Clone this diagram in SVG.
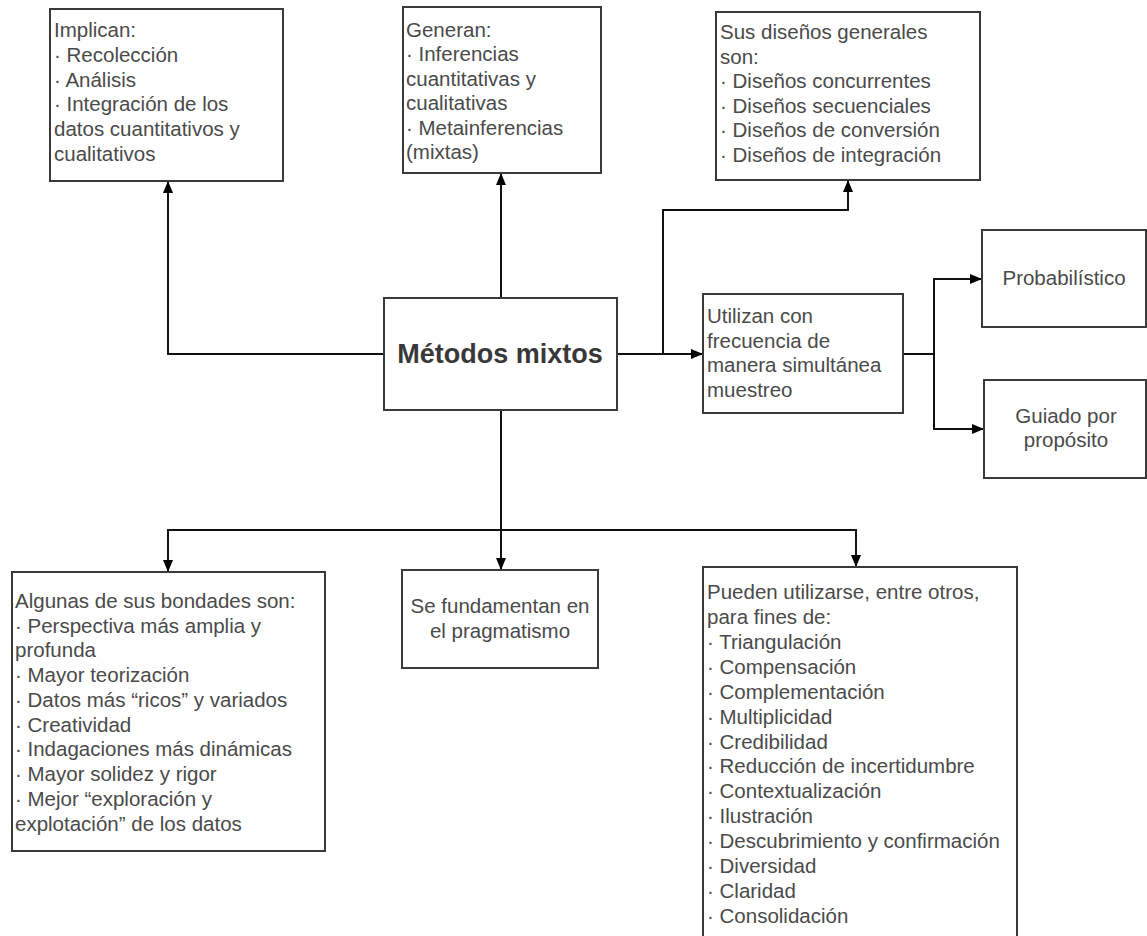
<svg xmlns="http://www.w3.org/2000/svg" width="1147" height="936" viewBox="0 0 1147 936">
<defs>
<marker id="ah" markerUnits="userSpaceOnUse" markerWidth="12" markerHeight="12" viewBox="0 0 12 12" refX="12" refY="6" orient="auto">
<path d="M0,1 L12,6 L0,11 Z" fill="#000"/>
</marker>
</defs>
<style>
.box{fill:#fff;stroke:#3a3a3a;stroke-width:2}
.t{font-family:"Liberation Sans",Arial,sans-serif;font-size:20.5px;fill:#4a4a4a}
.c{text-anchor:middle}
.title{font-family:"Liberation Sans",Arial,sans-serif;font-size:27px;font-weight:bold;fill:#383838;text-anchor:middle}
.ln{fill:none;stroke:#111;stroke-width:2}
.ar{fill:none;stroke:#111;stroke-width:2;marker-end:url(#ah)}
</style>
<rect width="1147" height="936" fill="#fff"/>
<g id="connectors">
<path class="ar" d="M501,298 V173"/>
<path class="ar" d="M384,354 H168 V181"/>
<path class="ar" d="M617,354 H703"/>
<path class="ar" d="M663,354 V210 H848 V180"/>
<path class="ln" d="M903,354 H934"/>
<path class="ar" d="M934,354 V279 H982"/>
<path class="ar" d="M934,354 V429 H984"/>
<path class="ln" d="M501,410 V530"/>
<path class="ar" d="M501,530 H168 V572"/>
<path class="ar" d="M501,530 V570"/>
<path class="ar" d="M501,530 H856 V567"/>
</g>
<g id="implican">
<rect class="box" x="50" y="9" width="233" height="172"/>
<text class="t"><tspan x="54" y="37">Implican:</tspan><tspan x="54" y="62">· Recolección</tspan><tspan x="54" y="87">· Análisis</tspan><tspan x="54" y="111">· Integración de los</tspan><tspan x="54" y="136">datos cuantitativos y</tspan><tspan x="54" y="161">cualitativos</tspan></text>
</g>
<g id="generan">
<rect class="box" x="403" y="7" width="198" height="166"/>
<text class="t"><tspan x="406" y="37">Generan:</tspan><tspan x="406" y="61">· Inferencias</tspan><tspan x="406" y="86">cuantitativas y</tspan><tspan x="406" y="110">cualitativas</tspan><tspan x="406" y="135">· Metainferencias</tspan><tspan x="406" y="159">(mixtas)</tspan></text>
</g>
<g id="disenos">
<rect class="box" x="716" y="12" width="264" height="168"/>
<text class="t"><tspan x="720" y="39">Sus diseños generales</tspan><tspan x="720" y="64">son:</tspan><tspan x="720" y="88">· Diseños concurrentes</tspan><tspan x="720" y="113">· Diseños secuenciales</tspan><tspan x="720" y="137">· Diseños de conversión</tspan><tspan x="720" y="162">· Diseños de integración</tspan></text>
</g>
<g id="metodos">
<rect class="box" x="384" y="298" width="233" height="112"/>
<text class="title" x="500" y="363">Métodos mixtos</text>
</g>
<g id="utilizan">
<rect class="box" x="703" y="294" width="200" height="119"/>
<text class="t"><tspan x="707" y="323">Utilizan con</tspan><tspan x="707" y="348">frecuencia de</tspan><tspan x="707" y="372">manera simultánea</tspan><tspan x="707" y="397">muestreo</tspan></text>
</g>
<g id="probabilistico">
<rect class="box" x="982" y="230" width="164" height="97"/>
<text class="t c" x="1064" y="285">Probabilístico</text>
</g>
<g id="guiado">
<rect class="box" x="984" y="380" width="162" height="98"/>
<text class="t c"><tspan x="1066" y="423">Guiado por</tspan><tspan x="1066" y="447">propósito</tspan></text>
</g>
<g id="bondades">
<rect class="box" x="12" y="572" width="313" height="279"/>
<text class="t"><tspan x="15" y="608">Algunas de sus bondades son:</tspan><tspan x="15" y="633">· Perspectiva más amplia y</tspan><tspan x="15" y="657">profunda</tspan><tspan x="15" y="682">· Mayor teorización</tspan><tspan x="15" y="707">· Datos más “ricos” y variados</tspan><tspan x="15" y="732">· Creatividad</tspan><tspan x="15" y="756">· Indagaciones más dinámicas</tspan><tspan x="15" y="781">· Mayor solidez y rigor</tspan><tspan x="15" y="806">· Mejor “exploración y</tspan><tspan x="15" y="831">explotación” de los datos</tspan></text>
</g>
<g id="pragmatismo">
<rect class="box" x="402" y="570" width="196" height="98"/>
<text class="t c"><tspan x="500" y="613">Se fundamentan en</tspan><tspan x="500" y="638">el pragmatismo</tspan></text>
</g>
<g id="fines">
<rect class="box" x="703" y="567" width="314" height="372"/>
<text class="t"><tspan x="707" y="599">Pueden utilizarse, entre otros,</tspan><tspan x="707" y="624">para fines de:</tspan><tspan x="707" y="649">· Triangulación</tspan><tspan x="707" y="674">· Compensación</tspan><tspan x="707" y="699">· Complementación</tspan><tspan x="707" y="724">· Multiplicidad</tspan><tspan x="707" y="749">· Credibilidad</tspan><tspan x="707" y="773">· Reducción de incertidumbre</tspan><tspan x="707" y="798">· Contextualización</tspan><tspan x="707" y="823">· Ilustración</tspan><tspan x="707" y="848">· Descubrimiento y confirmación</tspan><tspan x="707" y="873">· Diversidad</tspan><tspan x="707" y="898">· Claridad</tspan><tspan x="707" y="923">· Consolidación</tspan></text>
</g>
</svg>
